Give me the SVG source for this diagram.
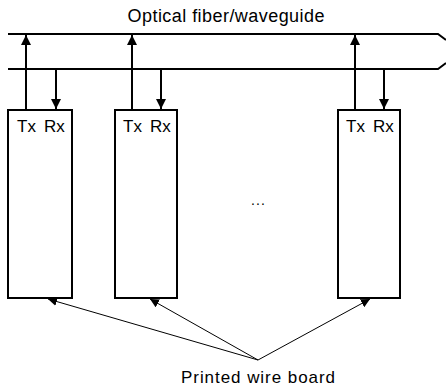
<svg xmlns="http://www.w3.org/2000/svg" width="446" height="391" viewBox="0 0 446 391">
<defs>
<style>
.lbl{font-family:"Liberation Sans",Arial,sans-serif;fill:#000}
.box{fill:#fff;stroke:#000;stroke-width:2}
.fib{fill:none;stroke:#000;stroke-width:2}
.sig{stroke:#000;stroke-width:2;fill:none}
.thin{stroke:#000;stroke-width:1;fill:none}
</style>
<marker id="ah" viewBox="0 0 10 10" refX="10" refY="5" markerWidth="10" markerHeight="12" markerUnits="userSpaceOnUse" orient="auto"><path d="M0,0 L10,5 L0,10 z" fill="#000"/></marker>
<marker id="ahs" viewBox="0 0 10 10" refX="10" refY="5" markerWidth="9" markerHeight="9" markerUnits="userSpaceOnUse" orient="auto"><path d="M0,0 L10,5 L0,10 z" fill="#000"/></marker>
</defs>
<rect width="446" height="391" fill="#fff"/>
<g id="fiber">
<path class="fib" d="M8,34 H438 L446,40"/>
<path class="fib" d="M8,69 H438 L446,63"/>
<text class="lbl" x="226" y="22" font-size="18" text-anchor="middle" textLength="197" lengthAdjust="spacing">Optical fiber/waveguide</text>
</g>
<g id="board1">
<rect class="box" x="8" y="110" width="64" height="188"/>
<text class="lbl" x="17" y="132" font-size="17">Tx</text>
<text class="lbl" x="44" y="132" font-size="17">Rx</text>
</g>
<g id="board2">
<rect class="box" x="115" y="110" width="62" height="188"/>
<text class="lbl" x="123" y="132" font-size="17">Tx</text>
<text class="lbl" x="150" y="132" font-size="17">Rx</text>
</g>
<g id="board3">
<rect class="box" x="338" y="110" width="62" height="188"/>
<text class="lbl" x="346" y="132" font-size="17">Tx</text>
<text class="lbl" x="373" y="132" font-size="17">Rx</text>
</g>
<g id="ellipsis">
<text class="lbl" x="258" y="205" font-size="14" text-anchor="middle" textLength="14" lengthAdjust="spacing">...</text>
</g>
<g id="pwb-label">
<text class="lbl" x="258" y="383" font-size="17" text-anchor="middle" textLength="154" lengthAdjust="spacing">Printed wire board</text>
</g>
<g id="connectors">
<line class="sig" x1="26" y1="110" x2="26" y2="35" marker-end="url(#ah)"/>
<line class="sig" x1="56" y1="70" x2="56" y2="109" marker-end="url(#ah)"/>
<line class="sig" x1="132" y1="110" x2="132" y2="35" marker-end="url(#ah)"/>
<line class="sig" x1="161" y1="70" x2="161" y2="109" marker-end="url(#ah)"/>
<line class="sig" x1="355" y1="110" x2="355" y2="35" marker-end="url(#ah)"/>
<line class="sig" x1="384" y1="70" x2="384" y2="109" marker-end="url(#ah)"/>
<line class="thin" x1="258" y1="360" x2="48" y2="299" marker-end="url(#ahs)"/>
<line class="thin" x1="258" y1="360" x2="150" y2="299" marker-end="url(#ahs)"/>
<line class="thin" x1="258" y1="360" x2="370" y2="299" marker-end="url(#ahs)"/>
</g>
</svg>
